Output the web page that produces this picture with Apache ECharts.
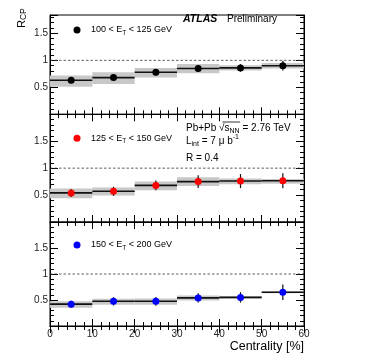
<!DOCTYPE html>
<html><head><meta charset="utf-8">
<script src="https://cdn.jsdelivr.net/npm/echarts@6/dist/echarts.min.js"></script>
<style>html,body{margin:0;padding:0;background:#fff}#c{width:368px;height:358px}</style>
</head><body><div id="c"></div>
<script>
// ---- data ----
const binLow = [0, 10, 20, 30, 40, 50];
const binHigh = [10, 20, 30, 40, 50, 60];
const centrality = [5, 15, 25, 35, 45, 55];
const xTickLabels = ['0', '10', '20', '30', '40', '50', '60'];
const yTickLabels = ['0.5', '1', '1.5'];
const refLevel = 1;
const panelNames = ['100 < ET < 125 GeV', '125 < ET < 150 GeV', '150 < ET < 200 GeV'];
const panelColors = ['#000000', '#ff0000', '#0000ff'];

const rcp1 = [0.63, 0.68, 0.78, 0.85, 0.86, 0.90];
const stat1 = [0.05, 0.055, 0.06, 0.065, 0.07, 0.09];
const sysLo1 = [0.51, 0.56, 0.68, 0.76, 0.81, 0.85];
const sysHi1 = [0.72, 0.78, 0.86, 0.93, 0.91, 0.95];

const rcp2 = [0.54, 0.57, 0.68, 0.75, 0.76, 0.765];
const stat2 = [0.075, 0.085, 0.09, 0.12, 0.13, 0.14];
const sysLo2 = [0.44, 0.49, 0.59, 0.67, 0.70, 0.71];
const sysHi2 = [0.62, 0.64, 0.75, 0.83, 0.81, 0.80];

const rcp3 = [0.42, 0.475, 0.475, 0.54, 0.55, 0.65];
const stat3 = [0.065, 0.08, 0.085, 0.09, 0.10, 0.15];
const sysLo3 = [0.35, 0.41, 0.41, 0.49, 0.525, 0.63];
const sysHi3 = [0.475, 0.525, 0.53, 0.585, 0.57, 0.67];

const rcp = [rcp1, rcp2, rcp3];
const stat = [stat1, stat2, stat3];
const sysLo = [sysLo1, sysLo2, sysLo3];
const sysHi = [sysHi1, sysHi2, sysHi3];

// ---- layout ----
const FONT = '"Liberation Sans", Arial, Helvetica, sans-serif';
const gridPos = [{ top: 15, height: 99.3 }, { top: 114.3, height: 107.7 }, { top: 222, height: 104 }];
const yMax = [1.84, 2, 2];
const legendTop = [23.5, 131.8, 238.5];

const grid = gridPos.map(p => ({ left: 50, right: 64, top: p.top, height: p.height, show: true, borderColor: '#000', borderWidth: 1 }));

const xAxis = [];
const yAxis = [];
for (let g = 0; g < 3; g++) {
  ['bottom', 'top'].forEach(pos => {
    xAxis.push({
      gridIndex: g, type: 'value', min: 0, max: 60, interval: 10, position: pos,
      axisLine: { show: true, lineStyle: { color: '#000', width: 1 } },
      axisTick: { show: true, inside: true, length: 7, lineStyle: { color: '#000', width: 1 } },
      minorTick: { show: true, splitNumber: 5, length: 4, lineStyle: { color: '#000', width: 1 } },
      splitLine: { show: false }, minorSplitLine: { show: false },
      axisLabel: {
        show: g === 2 && pos === 'bottom', margin: 3, fontSize: 10, fontFamily: FONT, color: '#222',
        showMinLabel: true, showMaxLabel: true,
        formatter: v => xTickLabels[Math.round(v / 10)] || ''
      }
    });
  });
  ['left', 'right'].forEach(pos => {
    yAxis.push({
      gridIndex: g, type: 'value', min: 0, max: yMax[g], interval: 0.5, position: pos,
      axisLine: { show: true, lineStyle: { color: '#000', width: 1 } },
      axisTick: { show: true, inside: true, length: 8, lineStyle: { color: '#000', width: 1 } },
      splitLine: { show: false },
      axisLabel: {
        show: pos === 'left', margin: 2, fontSize: 10, fontFamily: FONT, color: '#222',
        formatter: v => { const s = String(+(+v).toFixed(2)); return yTickLabels.includes(s) ? s : ''; }
      }
    });
    yAxis.push({
      gridIndex: g, type: 'value', min: 0, max: yMax[g], interval: 0.1, position: pos,
      axisLine: { show: false }, splitLine: { show: false },
      axisTick: { show: true, inside: true, length: 4, lineStyle: { color: '#000', width: 1 } },
      axisLabel: { show: false }
    });
  });
}

const series = [];
for (let g = 0; g < 3; g++) {
  const xi = g * 2, yi = g * 4;
  series.push({
    type: 'custom', xAxisIndex: xi, yAxisIndex: yi, z: 1, silent: true,
    data: binLow.map((x0, i) => [x0, binHigh[i], sysLo[g][i], sysHi[g][i]]),
    renderItem: (params, api) => {
      const a = api.coord([api.value(0), api.value(3)]);
      const b = api.coord([api.value(1), api.value(2)]);
      return { type: 'rect', shape: { x: a[0], y: a[1], width: b[0] - a[0], height: b[1] - a[1] }, style: { fill: '#c8c8c8' } };
    }
  });
  series.push({
    type: 'line', xAxisIndex: xi, yAxisIndex: yi, z: 2, silent: true, symbol: 'none',
    data: [[0, refLevel], [60, refLevel]],
    lineStyle: { color: '#333', width: 0.8, type: [2.5, 2] }
  });
  series.push({
    type: 'custom', xAxisIndex: xi, yAxisIndex: yi, z: 3, silent: true,
    data: binLow.map((x0, i) => [x0, binHigh[i], rcp[g][i]]),
    renderItem: (params, api) => {
      const a = api.coord([api.value(0), api.value(2)]);
      const b = api.coord([api.value(1), api.value(2)]);
      return { type: 'line', shape: { x1: a[0], y1: a[1], x2: b[0], y2: b[1] }, style: { stroke: '#111', lineWidth: 1.6 } };
    }
  });
  series.push({
    type: 'custom', xAxisIndex: xi, yAxisIndex: yi, z: 4, silent: true,
    data: centrality.map((c, i) => [c, rcp[g][i] - stat[g][i], rcp[g][i] + stat[g][i]]),
    renderItem: (params, api) => {
      const a = api.coord([api.value(0), api.value(1)]);
      const b = api.coord([api.value(0), api.value(2)]);
      return { type: 'line', shape: { x1: a[0], y1: a[1], x2: b[0], y2: b[1] }, style: { stroke: '#111', lineWidth: 1.2 } };
    }
  });
  series.push({
    type: 'scatter', name: panelNames[g], xAxisIndex: xi, yAxisIndex: yi, z: 5,
    symbol: 'circle', symbolSize: 7, itemStyle: { color: panelColors[g], opacity: 1 },
    data: centrality.map((c, i) => [c, rcp[g][i]])
  });
}

const legend = panelNames.map((n, g) => ({
  data: [n], left: 73.5, top: legendTop[g], orient: 'horizontal', padding: 0,
  icon: 'circle', itemWidth: 7, itemHeight: 7, selectedMode: false,
  itemStyle: { opacity: 1 },
  textStyle: {
    fontFamily: FONT, fontSize: 9, color: '#000', lineHeight: 13, padding: [0, 0, 0, 5.5],
    rich: { sub: { fontFamily: FONT, fontSize: 6.5, lineHeight: 6, verticalAlign: 'bottom', color: '#000' } }
  },
  formatter: name => name.replace('ET', 'E{sub|T}')
}));

function txt(x, y, text, extra) {
  return Object.assign({ type: 'text', x: x, y: y, silent: true,
    style: Object.assign({ text: text, fill: '#000', fontFamily: FONT, fontSize: 10,
      align: 'left', textAlign: 'left', verticalAlign: 'middle', textVerticalAlign: 'middle' }, extra || {}) });
}

const richSubSup = {
  sub: { fontFamily: FONT, fontSize: 7, lineHeight: 7, verticalAlign: 'bottom', fill: '#000', color: '#000' },
  sup: { fontFamily: FONT, fontSize: 7, lineHeight: 7, verticalAlign: 'top', fill: '#000', color: '#000' }
};

const graphic = [
  txt(183, 19.5, 'ATLAS', { fontSize: 10.5, fontWeight: 'bold', fontStyle: 'italic' }),
  txt(227, 19.5, 'Preliminary', { fontSize: 10 }),
  txt(186, 128, 'Pb+Pb √s{sub|NN} = 2.76 TeV', { lineHeight: 14, rich: richSubSup }),
  { type: 'line', silent: true, shape: { x1: 222.5, y1: 122, x2: 240, y2: 122 }, style: { stroke: '#000', lineWidth: 0.8 } },
  txt(186, 141, 'L{sub|int} = 7 μ b{sup|-1}', { lineHeight: 14, rich: richSubSup }),
  txt(186, 158.3, 'R = 0.4', {}),
  Object.assign(txt(22, 28, 'R{sub|CP}', { fontSize: 11, lineHeight: 12,
    rich: { sub: { fontFamily: FONT, fontSize: 8.5, lineHeight: 9, verticalAlign: 'bottom', fill: '#000' } } }), { rotation: Math.PI / 2 }),
  txt(304, 347, 'Centrality [%]', { fontSize: 12.5, align: 'right', textAlign: 'right' })
];

const chart = echarts.init(document.getElementById('c'), null, { renderer: 'canvas' });
chart.setOption({
  animation: false, backgroundColor: '#fff',
  grid, xAxis, yAxis, series, legend, graphic
});
</script></body></html>
